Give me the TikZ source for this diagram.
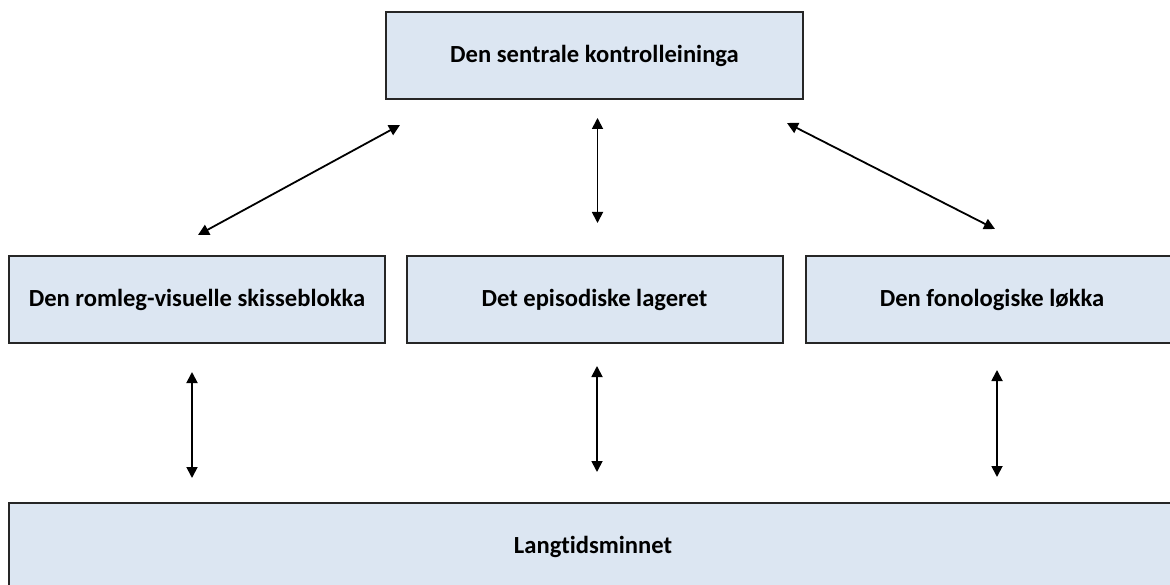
\documentclass[tikz,border=0pt]{standalone}
\usepackage{fontspec}
\setmainfont{Carlito}[Ligatures=NoCommon]
\usetikzlibrary{arrows.meta}
\definecolor{boxblue}{HTML}{DCE6F2}
\tikzset{
  memnode/.style = {draw=black!85, line width=2pt, fill=boxblue, inner sep=0pt, align=center, font=\fontsize{24.6}{28}\selectfont\bfseries},
  mem_s/.style = {memnode, minimum width=376pt, minimum height=87pt},
  link/.style = {<->, line width=1.8pt, >={Triangle[length=11pt,width=11pt]}}
}

\begin{document}
\begin{tikzpicture}[x=1pt, y=-1pt]
	\useasboundingbox (0,0) rectangle (1170,585);
	\clip (0,0) rectangle (1170,585);
	% boxes
	\node [memnode, minimum width=417pt, minimum height=87pt] (ctrl) at (594.5,55.5) {Den sentrale kontrolleininga};
	\node [mem_s] (rom) at (197,299.5) {Den romleg-visuelle skisseblokka};
	\node [mem_s] (epi) at (594.5,299.5) {Det episodiske lageret};
	\node [mem_s, minimum width=372pt] (fon) at (992,299.5) {Den fonologiske løkka};
	\node [memnode, minimum width=1168pt, minimum height=87pt] (lt) at (593,546.5) {Langtidsminnet};
	% arrow ends
	\coordinate (c1) at (400,125);
	\coordinate (r1) at (198,235);
	\coordinate (c2) at (597.5,118);
	\coordinate (e1) at (597.5,223);
	\coordinate (c3) at (787,123);
	\coordinate (f1) at (995,229);
	\coordinate (r2) at (192,372);
	\coordinate (l1) at (192,478);
	\coordinate (e2) at (597,366);
	\coordinate (l2) at (597,472);
	\coordinate (f2) at (997,370);
	\coordinate (l3) at (997,477);
	% links
	\draw [link] (c1) -- (r1);
	\draw [link] (c2) -- (e1);
	\draw [link] (c3) -- (f1);
	\draw [link] (r2) -- (l1);
	\draw [link] (e2) -- (l2);
	\draw [link] (f2) -- (l3);
\end{tikzpicture}
\end{document}
